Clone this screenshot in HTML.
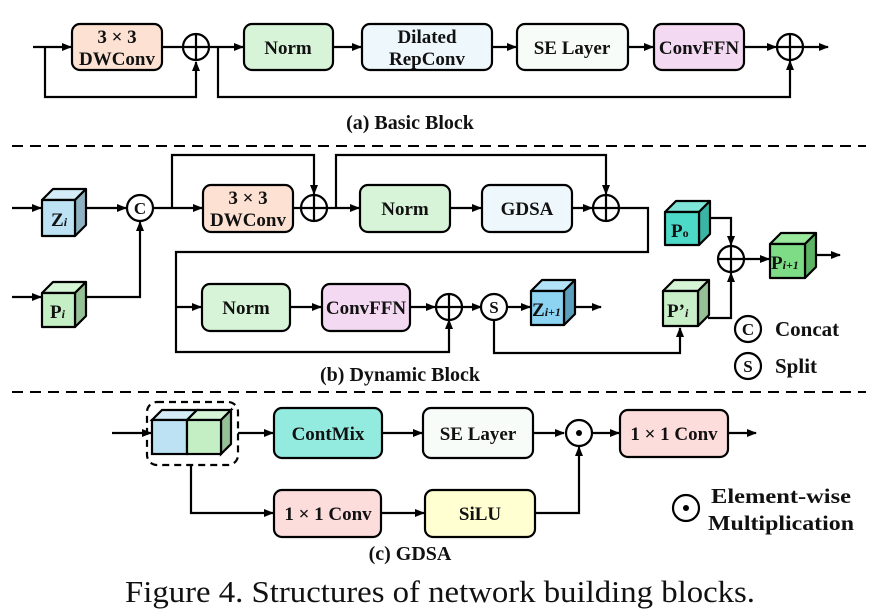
<!DOCTYPE html>
<html><head><meta charset="utf-8"><style>
html,body{margin:0;padding:0;background:#fff}
svg{display:block}
text{font-family:"Liberation Serif",serif;font-weight:bold;fill:#111}
</style></head><body>
<svg width="887" height="614" viewBox="0 0 887 614" xmlns="http://www.w3.org/2000/svg">
<defs>
<marker id="a" markerWidth="10" markerHeight="8" refX="9" refY="4" orient="auto" markerUnits="userSpaceOnUse"><path d="M0,0 L10,4 L0,8 z" fill="#000"/></marker>
</defs>
<g stroke="#000" stroke-width="2.2" fill="none">
<line x1="33" y1="47" x2="71" y2="47" marker-end="url(#a)"/>
<polyline points="45,47 45,97 196,97 196,62" marker-end="url(#a)"/>
<line x1="162" y1="47" x2="182" y2="47"/>
<line x1="210" y1="47" x2="243" y2="47" marker-end="url(#a)"/>
<polyline points="218,47 218,97 790,97 790,61" marker-end="url(#a)"/>
<line x1="333" y1="47" x2="361" y2="47" marker-end="url(#a)"/>
<line x1="492" y1="47" x2="516" y2="47" marker-end="url(#a)"/>
<line x1="628" y1="47" x2="653" y2="47" marker-end="url(#a)"/>
<line x1="744" y1="47" x2="776" y2="47" marker-end="url(#a)"/>
<line x1="804" y1="47" x2="828" y2="47" marker-end="url(#a)"/>
<rect x="72" y="24" width="90" height="46" rx="8" fill="#fde2d3"/>
<rect x="244" y="24" width="89" height="46" rx="8" fill="#d8f4d8"/>
<rect x="362" y="24" width="130" height="46" rx="8" fill="#eef7fc"/>
<rect x="517" y="24" width="111" height="46" rx="8" fill="#f8fcf8"/>
<rect x="654" y="24" width="90" height="46" rx="8" fill="#f3d9f1"/>
<circle cx="196" cy="47" r="13" fill="#fff"/><path d="M183,47h26M196,34v26"/>
<circle cx="790" cy="47" r="13" fill="#fff"/><path d="M777,47h26M790,34v26"/>
</g>
<line x1="12" y1="146" x2="866" y2="146" stroke="#000" stroke-width="2" stroke-dasharray="11,7"/>
<line x1="12" y1="392" x2="866" y2="392" stroke="#000" stroke-width="2" stroke-dasharray="11,7"/>
<g stroke="#000" stroke-width="2.2" fill="none">
<line x1="12" y1="208" x2="41" y2="208" marker-end="url(#a)"/>
<line x1="12" y1="297" x2="41" y2="297" marker-end="url(#a)"/>
<line x1="86" y1="208" x2="126" y2="208" marker-end="url(#a)"/>
<polyline points="86,297 140,297 140,222" marker-end="url(#a)"/>
<line x1="153" y1="208" x2="202" y2="208" marker-end="url(#a)"/>
<polyline points="172,208 172,155 314,155 314,194" marker-end="url(#a)"/>
<line x1="293" y1="208" x2="301" y2="208"/>
<line x1="327" y1="208" x2="359" y2="208" marker-end="url(#a)"/>
<polyline points="336,208 336,155 606,155 606,194" marker-end="url(#a)"/>
<line x1="450" y1="208" x2="481" y2="208" marker-end="url(#a)"/>
<line x1="572" y1="208" x2="592" y2="208" marker-end="url(#a)"/>
<polyline points="619,208 648,208 648,252 176,252 176,352 449,352 449,320" marker-end="url(#a)"/>
<line x1="176" y1="307" x2="201" y2="307" marker-end="url(#a)"/>
<line x1="290" y1="307" x2="321" y2="307" marker-end="url(#a)"/>
<line x1="410" y1="307" x2="435" y2="307" marker-end="url(#a)"/>
<line x1="462" y1="307" x2="481" y2="307" marker-end="url(#a)"/>
<line x1="507" y1="307" x2="530" y2="307" marker-end="url(#a)"/>
<line x1="575" y1="307" x2="601" y2="307" marker-end="url(#a)"/>
<polyline points="494,320 494,353 680,353 680,328" marker-end="url(#a)"/>
<polyline points="709,218 731,218 731,245" marker-end="url(#a)"/>
<polyline points="708,318 731,318 731,273" marker-end="url(#a)"/>
<line x1="744" y1="259" x2="769" y2="259" marker-end="url(#a)"/>
<line x1="815" y1="255" x2="840" y2="255" marker-end="url(#a)"/>
<rect x="203" y="185" width="90" height="47" rx="8" fill="#fde2d3"/>
<rect x="360" y="185" width="90" height="47" rx="8" fill="#d8f4d8"/>
<rect x="482" y="185" width="90" height="47" rx="8" fill="#eef7fc"/>
<rect x="202" y="284" width="88" height="47" rx="8" fill="#d8f4d8"/>
<rect x="322" y="284" width="88" height="47" rx="8" fill="#f3d9f1"/>
<circle cx="140" cy="208" r="13" fill="#fff"/>
<circle cx="314" cy="208" r="13" fill="#fff"/><path d="M301,208h26M314,195v26"/>
<circle cx="606" cy="208" r="13" fill="#fff"/><path d="M593,208h26M606,195v26"/>
<circle cx="449" cy="307" r="13" fill="#fff"/><path d="M436,307h26M449,294v26"/>
<circle cx="494" cy="307" r="13" fill="#fff"/>
<circle cx="731" cy="259" r="13" fill="#fff"/><path d="M718,259h26M731,246v26"/>
<circle cx="748" cy="329" r="13" fill="#fff"/>
<circle cx="748" cy="366" r="13" fill="#fff"/>
<g stroke-linejoin="round">
<polygon points="42,200 53,189 86,189 75,200" fill="#d3ecf7"/><polygon points="75,200 86,189 86,225 75,236" fill="#8fb2c2"/><rect x="42" y="200" width="33" height="36" fill="#bde2f4"/>
<polygon points="42,293 53,282 86,282 75,293" fill="#d6f5d6"/><polygon points="75,293 86,282 86,316 75,327" fill="#96c096"/><rect x="42" y="293" width="33" height="34" fill="#c4efc4"/>
<polygon points="665,212 676,201 710,201 699,212" fill="#7ee5d8"/><polygon points="699,212 710,201 710,234 699,245" fill="#3ab5a5"/><rect x="665" y="212" width="34" height="33" fill="#4cd9c8"/>
<polygon points="663,291 674,280 709,280 698,291" fill="#d6f5d6"/><polygon points="698,291 709,280 709,315 698,326" fill="#96c096"/><rect x="663" y="291" width="35" height="35" fill="#c8efc8"/>
<polygon points="770,244 781,233 816,233 805,244" fill="#9ae89e"/><polygon points="805,244 816,233 816,267 805,278" fill="#5cb464"/><rect x="770" y="244" width="35" height="34" fill="#7ddc85"/>
<polygon points="531,291 542,280 575,280 564,291" fill="#b3e3f6"/><polygon points="564,291 575,280 575,314 564,325" fill="#5c9fbc"/><rect x="531" y="291" width="33" height="34" fill="#8dd3f2"/>
</g>
<rect x="147" y="402" width="91" height="63" rx="10" stroke-dasharray="7,5"/>
<line x1="112" y1="433" x2="151" y2="433" marker-end="url(#a)"/>
<line x1="238" y1="433" x2="273" y2="433" marker-end="url(#a)"/>
<polyline points="191,465 191,513 273,513" marker-end="url(#a)"/>
<line x1="382" y1="433" x2="422" y2="433" marker-end="url(#a)"/>
<line x1="533" y1="433" x2="564" y2="433" marker-end="url(#a)"/>
<line x1="592" y1="433" x2="619" y2="433" marker-end="url(#a)"/>
<line x1="728" y1="433" x2="756" y2="433" marker-end="url(#a)"/>
<line x1="381" y1="513" x2="424" y2="513" marker-end="url(#a)"/>
<polyline points="535,513 579,513 579,447" marker-end="url(#a)"/>
<polygon points="152,420 162,410 197,410 187,420" fill="#d3ecf7"/>
<polygon points="187,420 197,410 231,410 221,420" fill="#d6f5d6"/>
<polygon points="221,420 231,410 231,444 221,454" fill="#96c096"/>
<rect x="152" y="420" width="35" height="34" fill="#bde2f4"/>
<rect x="187" y="420" width="34" height="34" fill="#c4efc4"/>
<rect x="274" y="408" width="108" height="50" rx="8" fill="#93ebdf"/>
<rect x="423" y="408" width="110" height="50" rx="8" fill="#f8fcf8"/>
<rect x="620" y="410" width="108" height="47" rx="8" fill="#fddcdc"/>
<rect x="274" y="490" width="107" height="47" rx="8" fill="#fddcdc"/>
<rect x="425" y="490" width="110" height="47" rx="8" fill="#ffffd2"/>
<circle cx="579" cy="433" r="13" fill="#fff"/>
<circle cx="686" cy="508" r="13" fill="#fff"/>
</g>
<circle cx="579" cy="433" r="3" fill="#000"/>
<circle cx="686" cy="508" r="3" fill="#000"/>
<g font-size="19" text-anchor="middle">
<text x="117" y="43">3 × 3</text><text x="117" y="65">DWConv</text>
<text x="288" y="54">Norm</text>
<text x="427" y="43">Dilated</text><text x="427" y="65">RepConv</text>
<text x="572" y="54">SE Layer</text>
<text x="699" y="54">ConvFFN</text>
<text x="410" y="129" font-size="20">(a) Basic Block</text>
<text x="140" y="214" font-family="Liberation Sans" font-size="17">C</text>
<text x="494" y="313" font-family="Liberation Sans" font-size="17">S</text>
<text x="748" y="335" font-family="Liberation Sans" font-size="17">C</text>
<text x="748" y="372" font-family="Liberation Sans" font-size="17">S</text>
<text x="248" y="204">3 × 3</text><text x="248" y="226">DWConv</text>
<text x="405" y="215">Norm</text>
<text x="527" y="215">GDSA</text>
<text x="246" y="314">Norm</text>
<text x="366" y="314">ConvFFN</text>
<text x="400" y="381" font-size="20">(b) Dynamic Block</text>
<text x="328" y="440">ContMix</text>
<text x="478" y="440">SE Layer</text>
<text x="674" y="440">1 × 1 Conv</text>
<text x="328" y="520">1 × 1 Conv</text>
<text x="480" y="520">SiLU</text>
<text x="781" y="503" font-size="21" textLength="140" lengthAdjust="spacingAndGlyphs">Element-wise</text>
<text x="781" y="530" font-size="21" textLength="146" lengthAdjust="spacingAndGlyphs">Multiplication</text>
<text x="410" y="560" font-size="20">(c) GDSA</text>
</g>
<g font-size="19">
<text x="51" y="226">Z<tspan font-size="12" font-style="italic">i</tspan></text>
<text x="50" y="318">P<tspan font-size="12" font-style="italic">i</tspan></text>
<text x="671" y="237">P<tspan font-size="12">o</tspan></text>
<text x="667" y="317">P’<tspan font-size="12" font-style="italic">i</tspan></text>
<text x="771" y="269">P<tspan font-size="12" font-style="italic">i+1</tspan></text>
<text x="532" y="316">Z<tspan font-size="12" font-style="italic">i+1</tspan></text>
<text x="775" y="336" font-size="21">Concat</text>
<text x="775" y="373" font-size="21">Split</text>
</g>
<text x="440" y="602" font-size="31" text-anchor="middle" textLength="630" lengthAdjust="spacingAndGlyphs" style="font-weight:normal">Figure 4. Structures of network building blocks.</text>
</svg>
</body></html>
